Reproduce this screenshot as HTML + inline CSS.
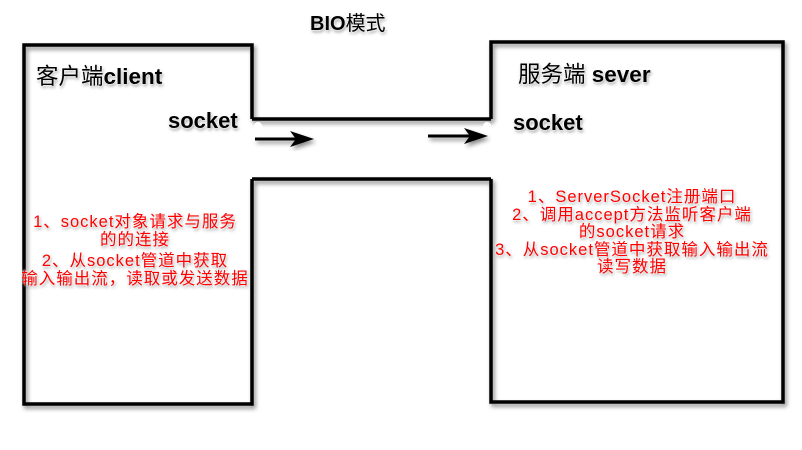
<!DOCTYPE html>
<html><head><meta charset="utf-8"><style>
html,body{margin:0;padding:0;background:#fff;}
body{width:802px;height:450px;position:relative;overflow:hidden;font-family:"Liberation Sans","Noto Sans CJK SC",sans-serif;}
.t{position:absolute;white-space:nowrap;text-shadow:0 0 2px #fff,0 0 2px #fff,1px 2px 3px rgba(0,0,0,.45);}
.r{color:#f00;font-size:16.5px;letter-spacing:1px;text-align:center;line-height:18px;}
</style></head><body>
<svg width="802" height="450" style="position:absolute;left:0;top:0">
<defs><filter id="s" x="-10%" y="-10%" width="130%" height="130%"><feDropShadow dx="2" dy="3" stdDeviation="2" flood-color="#000" flood-opacity="0.45"/></filter></defs>
<g fill="none" stroke="#000" stroke-width="3.5" filter="url(#s)">
<path d="M252 119 V45 H24 V404 H252 V179"/>
<path d="M491 119 V42 H783 V402 H491 V179"/>
<path d="M252 119 H491"/>
<path d="M252 179 H491"/>
</g>
<rect x="254" y="122" width="8" height="54" rx="4" fill="#fff"/>
<rect x="483" y="122" width="8" height="54" rx="4" fill="#fff"/>
<g filter="url(#s)">
<line x1="255" y1="139" x2="300" y2="139" stroke="#000" stroke-width="3"/>
<path d="M314 139 L290 131 L296 139 L290 147 Z" fill="#000"/>
<line x1="428" y1="136" x2="474" y2="136" stroke="#000" stroke-width="3"/>
<path d="M488 136 L464 128 L470 136 L464 144 Z" fill="#000"/>
</g>
</svg>
<div class="t" style="left:310px;top:7px;font-size:20px;font-weight:bold;">BIO<span style="font-weight:normal">模式</span></div>
<div class="t" style="left:36px;top:59px;font-size:22.5px;">客户端<b>client</b></div>
<div class="t" style="left:168px;top:108px;font-size:22px;font-weight:bold;">socket</div>
<div class="t" style="left:518px;top:57px;font-size:22.5px;">服务端 <b>sever</b></div>
<div class="t" style="left:513px;top:110px;font-size:22px;font-weight:bold;">socket</div>
<div class="t r" style="left:0;width:270px;top:213px;">1、socket对象请求与服务<br>的的连接</div>
<div class="t r" style="left:0;width:270px;top:252px;">2、从socket管道中获取<br>输入输出流，读取或发送数据</div>
<div class="t r" style="left:492px;width:280px;top:189px;line-height:17.5px;">1、ServerSocket注册端口<br>2、调用accept方法监听客户端<br>的socket请求<br>3、从socket管道中获取输入输出流<br>读写数据</div>
</body></html>
